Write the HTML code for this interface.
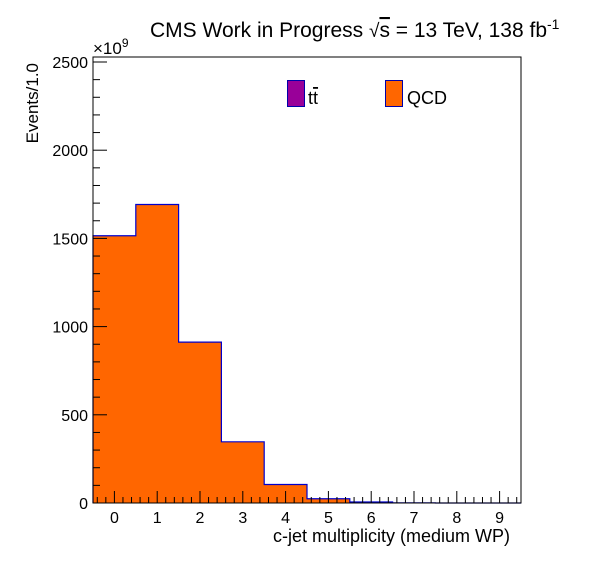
<!DOCTYPE html>
<html><head><meta charset="utf-8"><style>
body{margin:0;background:#fff;}
svg text{font-family:"Liberation Sans",sans-serif;fill:#000;}
</style></head><body>
<svg id="c" width="596" height="572" xmlns="http://www.w3.org/2000/svg">
<rect width="596" height="572" fill="#fff"/>
<g id="bars"></g>
<g id="axes"></g>
<text x="150" y="37" font-size="21">CMS Work in Progress <tspan font-size="19">√</tspan><tspan text-decoration="overline">s</tspan> = 13 TeV, 138 fb<tspan dy="-8" font-size="14">-1</tspan></text>
<text x="93" y="54" font-size="17">×10<tspan dy="-7" font-size="12">9</tspan></text>
<text transform="translate(38,63) rotate(-90)" font-size="17" text-anchor="end">Events/1.0</text>
<text x="510" y="542" font-size="18" text-anchor="end">c-jet multiplicity (medium WP)</text>
<g>
<g><rect x="287.5" y="80.5" width="17" height="26" fill="#990099" stroke="#0000aa"/><text x="308" y="104" font-size="18">t<tspan text-decoration="overline">t</tspan></text></g>
<g><rect x="385.5" y="80.5" width="17" height="26" fill="#ff6600" stroke="#0000aa"/><text x="407" y="104" font-size="18">QCD</text></g>
</g>
</svg>
<script>
const categories=[0,1,2,3,4,5,6,7,8,9];
const qcdValues=[1515,1692,912,347,105,24,6,0.5,0,0];
const yTickLabels=[0,500,1000,1500,2000,2500];
const L=93,R=521,T=57,B=503;
const ys0=62;
const xs=v=>L+(v+0.5)*(R-L)/10;
const ys=v=>B-v*(B-ys0)/2500;
const NS="http://www.w3.org/2000/svg";
function mk(t,a,p){const e=document.createElementNS(NS,t);for(const k in a)e.setAttribute(k,a[k]);p.appendChild(e);return e;}
const bars=document.getElementById('bars'),axes=document.getElementById('axes');
let d="M"+xs(-0.5)+","+B;
categories.forEach((c,i)=>{const y=ys(qcdValues[i]);
d+=" L"+xs(c-0.5)+","+y+" L"+xs(c+0.5)+","+y;});
d+=" L"+xs(9.5)+","+B;
const fillP=mk('path',{d:d+" Z",fill:'#ff6600',stroke:'none'},bars);


const o=mk('path',{d:d,fill:'none',stroke:'#0000cc','stroke-width':1.2},bars);


const f=mk('rect',{x:L,y:T,width:R-L,height:B-T,fill:'none',stroke:'#000','stroke-width':1},axes);


for(let v=-0.4;v<9.5;v+=0.2){const vv=Math.round(v*10)/10;const maj=Math.abs(vv-Math.round(vv))<1e-6;
mk('line',{x1:xs(vv),x2:xs(vv),y1:B,y2:B-(maj?12:6),stroke:'#000'},axes);}
categories.forEach(c=>{const t=mk('text',{x:xs(c),y:B+20,'font-size':16,'text-anchor':'middle'},axes);t.textContent=c;

});
for(let v=0;v<=2500;v+=100){const maj=v%500===0;mk('line',{x1:L,x2:L+(maj?14:7),y1:ys(v),y2:ys(v),stroke:'#000'},axes);}
yTickLabels.forEach(v=>{const t=mk('text',{x:L-5,y:ys(v)+6,'font-size':16,'text-anchor':'end'},axes);t.textContent=v;

});
</script>
</body></html>
